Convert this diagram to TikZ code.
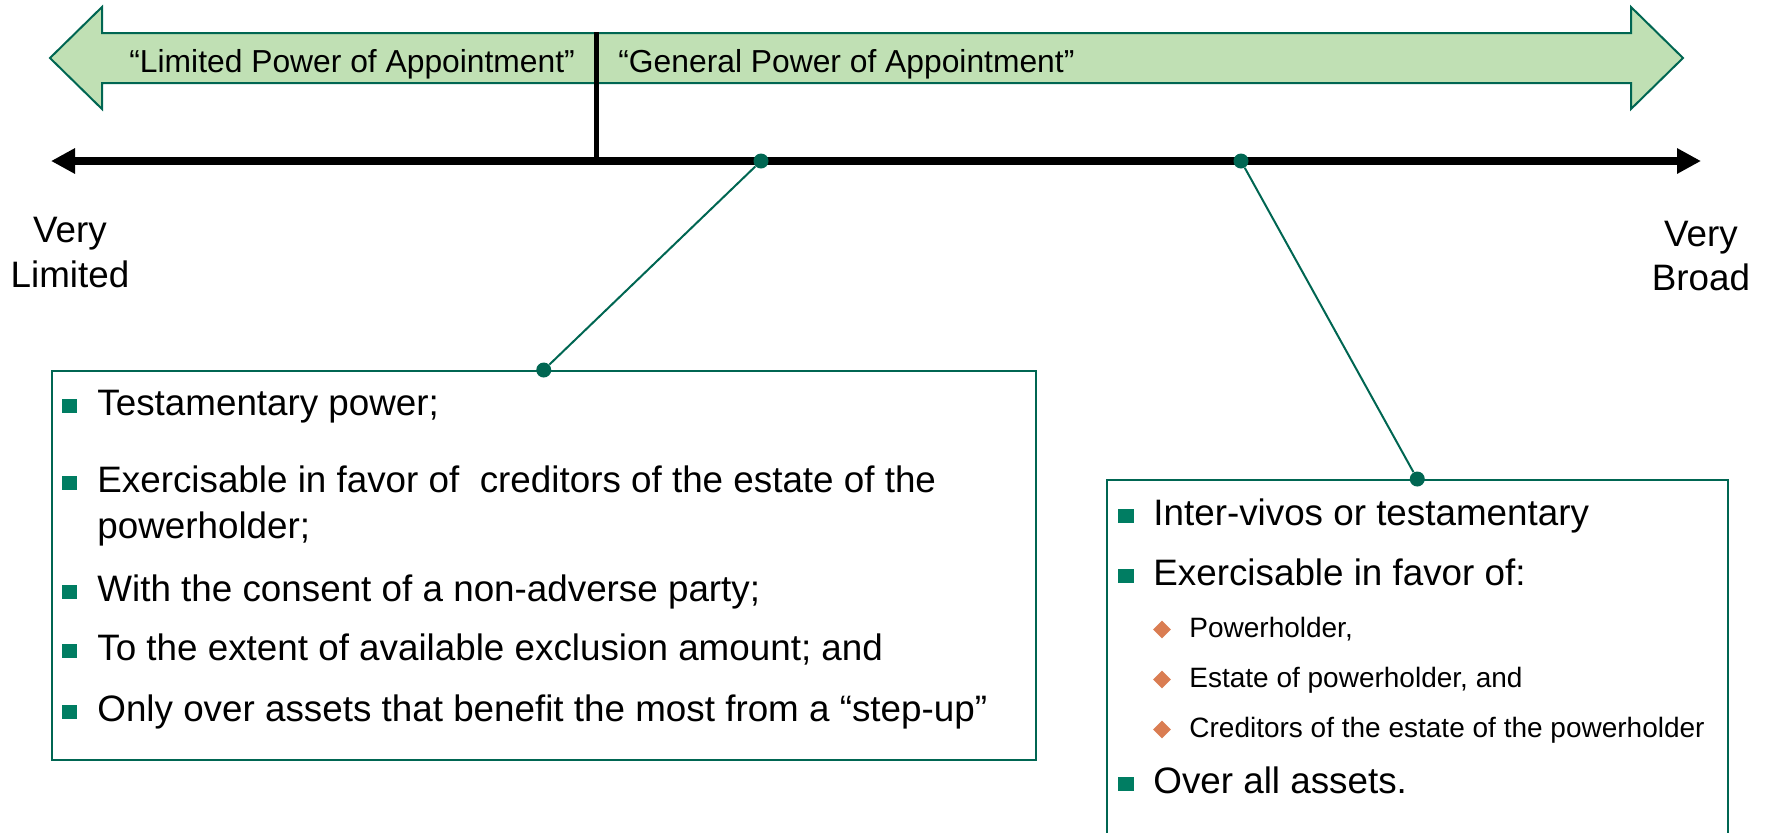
\documentclass[tikz,border=0pt]{standalone}
\usepackage{fontspec}
\setmainfont{Liberation Sans}
\usetikzlibrary{arrows.meta,shapes.geometric}
\definecolor{bandfill}{RGB}{192,224,180}
\definecolor{darkgreen}{RGB}{0,102,82}
\definecolor{bulletgreen}{RGB}{0,125,98}
\definecolor{diaorange}{RGB}{218,125,82}

\begin{document}
\begin{tikzpicture}[x=0.5pt, y=-0.5pt,
  band/.style={draw=darkgreen, fill=bandfill, line width=1pt, line join=miter},
  axisline/.style={line width=4pt, {Triangle[length=12pt,width=12pt]}-{Triangle[length=12pt,width=12pt]}},
  divider/.style={line width=2.5pt},
  bandlbl/.style={anchor=base west, inner sep=0pt, font=\fontsize{15.9}{19}\selectfont},
  endlbl/.style={anchor=base, inner sep=0pt, font=\fontsize{18.4}{22}\selectfont},
  itemtxt/.style={anchor=base west, inner sep=0pt, font=\fontsize{18.4}{22}\selectfont},
  subtxt/.style={anchor=base west, inner sep=0pt, font=\fontsize{14}{17}\selectfont},
  sqbullet/.style={fill=bulletgreen, minimum width=7.6pt, minimum height=7.2pt, inner sep=0pt},
  diabullet/.style={fill=diaorange, diamond, minimum size=9pt, inner sep=0pt},
  pin/.style={fill=darkgreen, circle, minimum size=7.5pt, inner sep=0pt},
  link/.style={draw=darkgreen, line width=1pt},
  infobox/.style={draw=darkgreen, line width=0.75pt, anchor=north west, inner sep=0pt}
]
\clip (0,0) rectangle (1769,832);

% double arrow band
\draw[band] (50,58) -- (102,7) -- (102,33) -- (1631,33) -- (1631,7) -- (1683,58)
  -- (1631,109) -- (1631,83) -- (102,83) -- (102,109) -- cycle;
\node[bandlbl] (LimLbl) at (129,72) {“Limited Power of Appointment”};
\node[bandlbl] (GenLbl) at (618,72) {“General Power of Appointment”};

% axis
\coordinate (AxL) at (51,161);
\coordinate (AxR) at (1701,161);
\coordinate (DivT) at (596,32);
\draw[divider] (DivT) -- (DivT |- AxL);
\draw[axisline] (AxL) -- (AxR);

\node[endlbl] (VL1) at (70,242) {Very};
\node[endlbl] (VL2) at (70,287) {Limited};
\node[endlbl] (VB1) at (1701,246) {Very};
\node[endlbl] (VB2) at (1701,290) {Broad};

% boxes
\node[infobox, minimum width=492pt, minimum height=194.5pt] (LBox) at (51,370) {};
\node[infobox, minimum width=310.5pt, minimum height=200pt] (RBox) at (1106,479) {};

\node[pin] (D1) at (761,161) {};
\node[pin] (D2) at (1241,161) {};
\node[pin] (B1) at (LBox.north) {};
\node[pin] (B2) at (RBox.north) {};
\draw[link] (D1) -- (B1);
\draw[link] (D2) -- (B2);

% left box items
\node[sqbullet] (LS1) at (69.5,406) {};
\node[itemtxt] (LT1) at (97,415) {Testamentary power;};
\node[sqbullet] (LS2) at (69.5,483) {};
\node[itemtxt] (LT2) at (97,492) {Exercisable in favor of~ creditors of the estate of the};
\node[itemtxt] (LT2b) at (97,538) {powerholder;};
\node[sqbullet] (LS3) at (69.5,592) {};
\node[itemtxt] (LT3) at (97,601) {With the consent of a non-adverse party;};
\node[sqbullet] (LS4) at (69.5,651) {};
\node[itemtxt] (LT4) at (97,660) {To the extent of available exclusion amount; and};
\node[sqbullet] (LS5) at (69.5,712) {};
\node[itemtxt] (LT5) at (97,721) {Only over assets that benefit the most from a “step-up”};

% right box items
\node[sqbullet] (RS1) at (1126,516) {};
\node[itemtxt] (RT1) at (1153,525) {Inter-vivos or testamentary};
\node[sqbullet] (RS2) at (1126,576) {};
\node[itemtxt] (RT2) at (1153,585) {Exercisable in favor of:};
\node[diabullet] (RD1) at (1162,629.5) {};
\node[subtxt] (RU1) at (1189,637) {Powerholder,};
\node[diabullet] (RD2) at (1162,679.5) {};
\node[subtxt] (RU2) at (1189,687) {Estate of powerholder, and};
\node[diabullet] (RD3) at (1162,729.5) {};
\node[subtxt] (RU3) at (1189,737) {Creditors of the estate of the powerholder};
\node[sqbullet] (RS3) at (1126,784) {};
\node[itemtxt] (RT3) at (1153,793) {Over all assets.};
\end{tikzpicture}
\end{document}
